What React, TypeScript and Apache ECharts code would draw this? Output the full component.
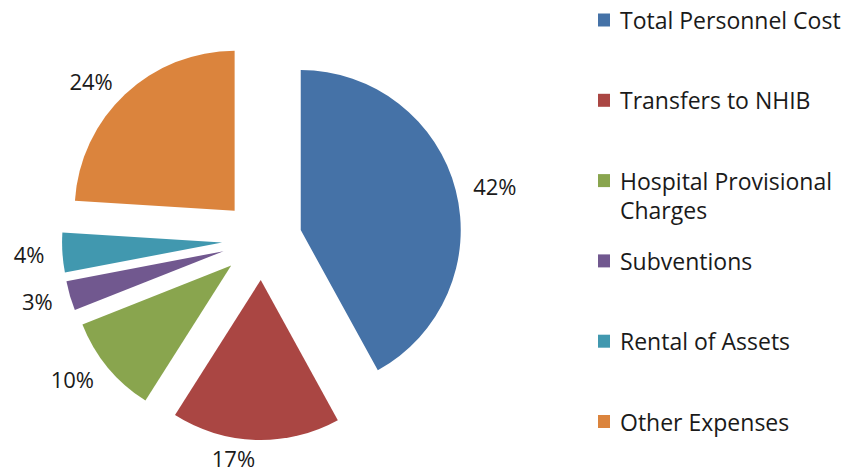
import React, { useEffect, useRef } from "react";
import * as echarts from "echarts";

const categories = [
  "Total Personnel Cost",
  "Transfers to NHIB",
  "Hospital Provisional Charges",
  "Subventions",
  "Rental of Assets",
  "Other Expenses",
];
const shares = [42, 17, 10, 3, 4, 24];
const colors = ["#4572A7", "#AA4643", "#89A54E", "#71588F", "#4198AF", "#DB843D"];
const legendLabels = [
  "Total Personnel Cost",
  "Transfers to NHIB",
  "\nHospital Provisional\nCharges",
  "Subventions",
  "Rental of Assets",
  "Other Expenses",
];

const FONT = "'Open Sans', 'Liberation Sans', sans-serif";

export default function App() {
  const ref = useRef<HTMLDivElement>(null);
  useEffect(() => {
    if (!ref.current) return;
    const chart = echarts.init(ref.current, null, { renderer: "svg" });
    const lh = 29;
    const legends = categories.map((name, i) => {
      const lines = legendLabels[i].split("\n").length;
      const center = 20 + i * 80.3;
      return {
        data: [name],
        orient: "vertical",
        left: 598,
        top: center - (lines * lh) / 2,
        padding: 0,
        itemGap: 0,
        icon: "rect",
        itemWidth: 12,
        itemHeight: 13,
        formatter: () => legendLabels[i],
        textStyle: {
          fontFamily: FONT,
          fontSize: 23,
          lineHeight: lh,
          color: "#1a1a1a",
          padding: [0, 0, 0, 5],
        },
      };
    });
    chart.setOption({
      animation: false,
      color: colors,
      legend: legends,
      series: [
        {
          type: "pie",
          center: [262, 240],
          radius: 160,
          startAngle: 90,
          clockwise: true,
          selectedMode: "multiple",
          selectedOffset: 40,
          avoidLabelOverlap: false,
          label: {
            show: true,
            position: "outside",
            formatter: (p: any) => p.value + "%",
            fontFamily: FONT,
            fontSize: 22,
            lineHeight: 22,
            color: "#1a1a1a",
            distanceToLabelLine: 0,
          },
          labelLine: { show: false, length: 18, length2: 0 },
          itemStyle: { borderWidth: 0 },
          emphasis: { disabled: true },
          data: categories.map((name, i) => ({
            name,
            value: shares[i],
            selected: true,
          })),
        },
      ],
    });
    return () => chart.dispose();
  }, []);
  return (
    <div
      ref={ref}
      style={{ position: "absolute", left: 0, top: 0, width: 847, height: 473, background: "#fff" }}
    />
  );
}
